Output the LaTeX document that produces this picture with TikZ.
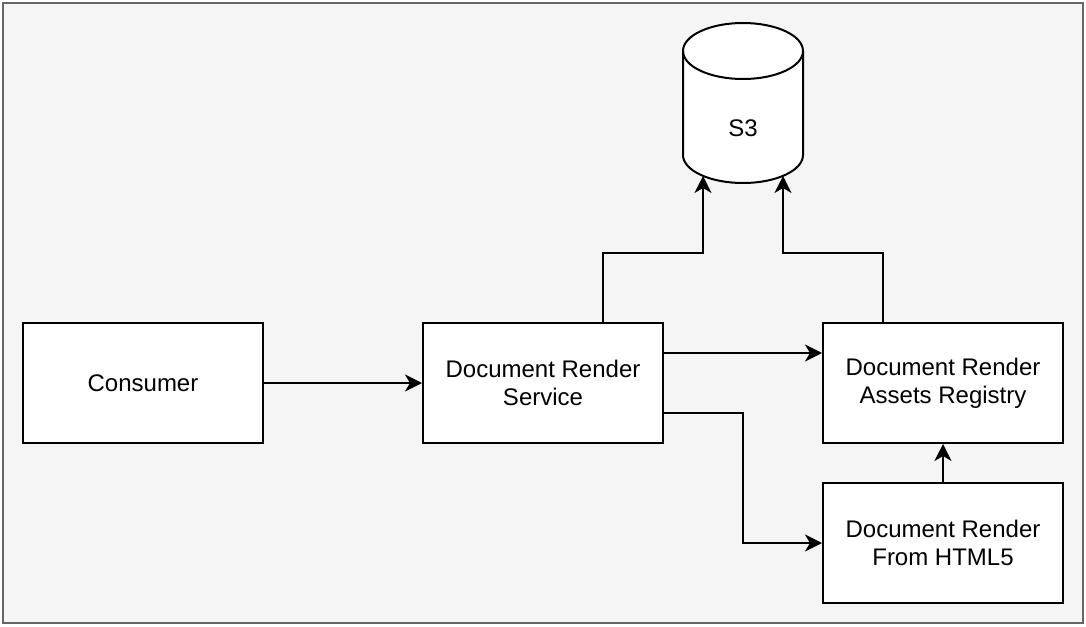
\documentclass[tikz,border=0pt]{standalone}
\usepackage{fontspec}
\setmainfont{Liberation Sans}
\usetikzlibrary{arrows.meta,positioning}
\begin{document}
\begin{tikzpicture}[x=1pt,y=-1pt,
  box/.style={draw=black,line width=2pt,fill=white,minimum width=240pt,minimum height=120pt,align=center,inner sep=0pt,font=\fontsize{24}{28}\selectfont},
  conn/.style={draw=black,line width=2pt,-{Stealth[length=17pt,width=17pt,inset=5pt]}}
]
\useasboundingbox (0,0) rectangle (1086,626);
\draw[draw=black!60,fill=black!4,line width=2pt] (3,3) rectangle (1083,623);
\node[box] (cons) at (143,383) {Consumer};
\node[box] (drs) at (543,383) {Document Render\\Service};
\node[box] (reg) at (943,383) {Document Render\\Assets Registry};
\node[box] (html) at (943,543) {Document Render\\From HTML5};
% cylinder S3
\draw[line width=2pt,fill=white] (683,51) -- (683,155) arc[start angle=180,end angle=0,x radius=60,y radius=28] -- (803,51) arc[start angle=0,end angle=-180,x radius=60,y radius=28] -- cycle;
\draw[line width=2pt] (683,51) arc[start angle=180,end angle=0,x radius=60,y radius=28];
\node[font=\fontsize{24}{28}\selectfont] (s3) at (743,128) {S3};
\coordinate (s3l) at (703,176);
\coordinate (s3r) at (783,176);
\coordinate (drsA) at ([yshift=30pt]drs.east);
\coordinate (drsB) at ([yshift=-30pt]drs.east);
\coordinate (regA) at (reg.west |- drsA);
\coordinate (drsT) at ([xshift=60pt]drs.north);
\coordinate (regT) at ([xshift=-60pt]reg.north);
\draw[conn] (cons.east) -- (drs.west);
\draw[conn] (drsA) -- (regA);
\draw[conn] (drsB) -- (743,413) |- (html.west);
\draw[conn] (html.north) -- (reg.south);
\draw[conn] (drsT) |- (703,253) -- (s3l);
\draw[conn] (regT) |- (783,253) -- (s3r);
\end{tikzpicture}
\end{document}
